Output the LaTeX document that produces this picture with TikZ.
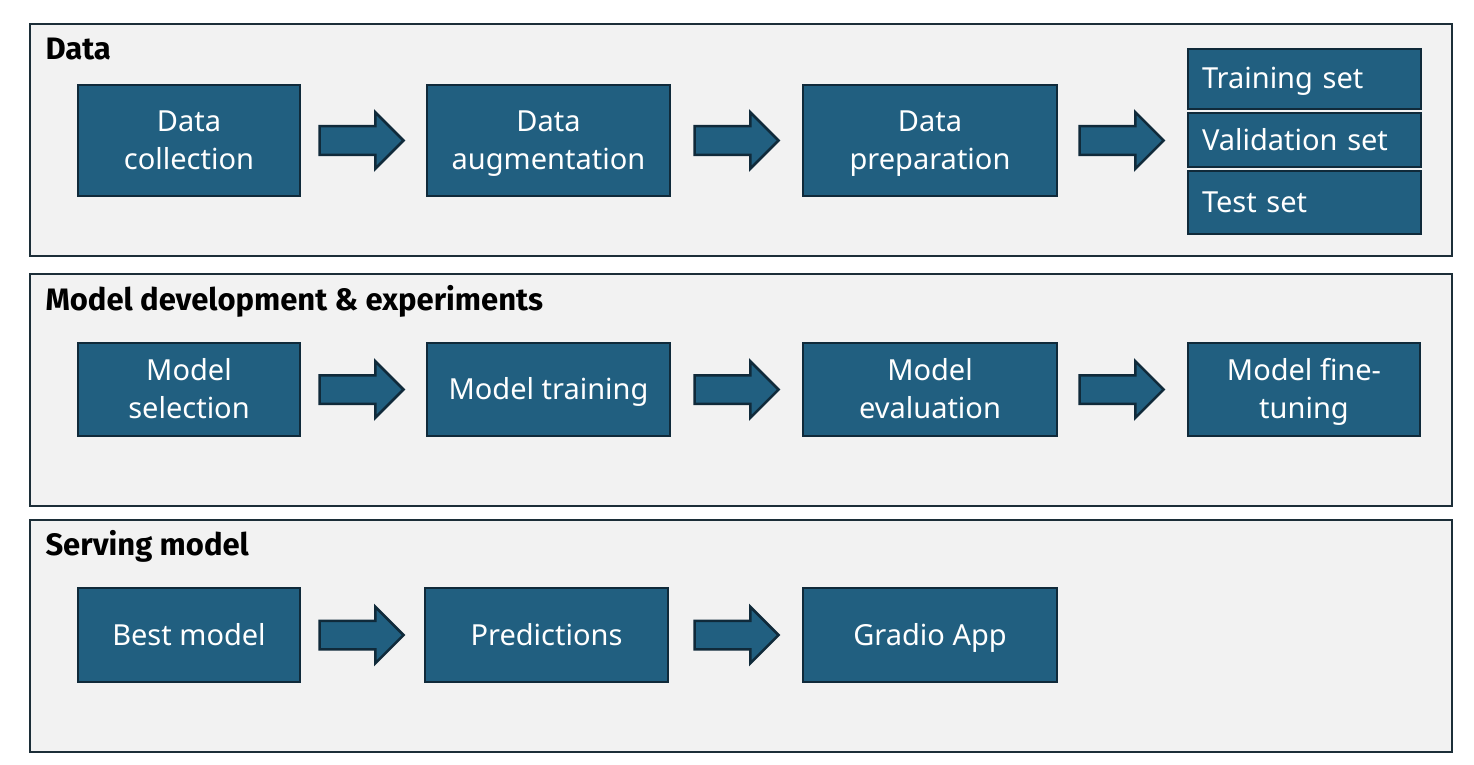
\documentclass[tikz,border=0pt]{standalone}
\usepackage{fontspec}
\setmainfont{Noto Sans}
\newfontfamily\titlefont{Fira Sans}
\usetikzlibrary{positioning,shapes.arrows}

\definecolor{boxblue}{RGB}{33,95,128}
\definecolor{boxline}{RGB}{16,42,58}
\definecolor{panelfill}{RGB}{242,242,242}
\definecolor{panelline}{RGB}{28,46,56}

\newcommand{\boxstrut}{\rule[-8pt]{0pt}{36pt}}

\tikzset{every picture/.style={line width=1pt}}
\tikzset{
  panel/.style={draw=panelline,fill=panelfill,line width=2.5pt,minimum width=1422pt,minimum height=232pt,inner sep=0pt},
  stagebox/.style={draw=boxline,fill=boxblue,line width=2.5pt,text=white,align=center,inner sep=0pt,
    font=\fontsize{29}{38}\selectfont,execute at end node=\boxstrut},
  setbox/.style={draw=boxline,fill=boxblue,line width=2.5pt,text=white,align=left,text width=205pt,
    inner xsep=14pt,inner ysep=0pt,font=\fontsize{29}{34}\selectfont,execute at end node=\boxstrut},
  blockarrow/.style={single arrow,draw=boxline,fill=boxblue,line width=2.5pt,minimum height=84pt,
    minimum width=54pt,inner ysep=13pt,inner xsep=0pt,single arrow head extend=14pt},
  paneltitle/.style={anchor=base west,inner sep=0pt,font=\titlefont\fontsize{31}{34}\selectfont\bfseries}
}

\begin{document}
\begin{tikzpicture}[x=1pt,y=1pt,yscale=-1,xscale=1]
\useasboundingbox[fill=white] (0,0) rectangle (1474,765);

%Shape: Panels
\node[panel] (pdata) at (741,140) {};
\node[panel] (pmodel) at (741,390) {};
\node[panel] (pserve) at (741,636) {};

% Text Node
\node[paneltitle] (tdata) at (45,60) {Data};
\node[paneltitle] (tmodel) at (45,310) {Model development \& experiments};
\node[paneltitle] (tserve) at (45,555) {Serving model};

%Shape: Data row
\node[stagebox,minimum width=222pt,minimum height=111pt] (dcol) at (189,140.5) {\boxstrut Data\\collection};
\node[stagebox,minimum width=243pt,minimum height=111pt] (daug) at (548.5,140.5) {\boxstrut Data\\augmentation};
\node[stagebox,minimum width=254pt,minimum height=111pt] (dprep) at (930,140.5) {\boxstrut Data\\preparation};
\node[setbox,minimum height=60pt] (strain) at (1304.5,79) {Training set};
\node[setbox,minimum height=54pt] (sval) at (1304.5,140) {Validation set};
\node[setbox,minimum height=63pt] (stest) at (1304.5,202.5) {Test set};

%Shape: Model row
\node[stagebox,minimum width=222pt,minimum height=93pt] (msel) at (189,389.5) {\boxstrut Model\\selection};
\node[stagebox,minimum width=243pt,minimum height=93pt] (mtrain) at (548.5,389.5) {Model training};
\node[stagebox,minimum width=254pt,minimum height=93pt] (meval) at (930,389.5) {\boxstrut Model\\evaluation};
\node[stagebox,minimum width=232pt,minimum height=93pt] (mfine) at (1304,389.5) {\boxstrut Model fine-\\tuning};

%Shape: Serving row
\node[stagebox,minimum width=222pt,minimum height=94pt] (best) at (189,635) {Best model};
\node[stagebox,minimum width=243pt,minimum height=94pt] (pred) at (546.5,635) {Predictions};
\node[stagebox,minimum width=254pt,minimum height=94pt] (gradio) at (930,635) {Gradio App};

%Shape: Block arrows
\node[blockarrow,right=17pt of dcol] (a1) {};
\node[blockarrow,right=22pt of daug] (a2) {};
\node[blockarrow,right=20pt of dprep] (a3) {};
\node[blockarrow,right=17pt of msel] (a4) {};
\node[blockarrow,right=22pt of mtrain] (a5) {};
\node[blockarrow,right=20pt of meval] (a6) {};
\node[blockarrow,right=17pt of best] (a7) {};
\node[blockarrow,right=24pt of pred] (a8) {};

\end{tikzpicture}
\end{document}
